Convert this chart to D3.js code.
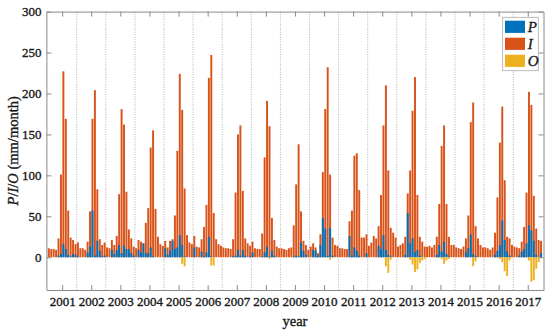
<!DOCTYPE html>
<html>
<head>
<meta charset="utf-8">
<script src="https://cdn.jsdelivr.net/npm/d3@7"></script>
<style>
  body { margin: 0; background: #fff; }
  svg text { font-family: "Liberation Serif", "Times New Roman", serif; fill: #1a1a1a; stroke: #1a1a1a; stroke-width: 0.35px; }
</style>
</head>
<body>
<div id="viz"></div>
<script>
var width = 550, height = 333;
var margin = {top: 11.6, right: 6.5, bottom: 43, left: 46.4};

// one row per year, Jan..Dec (mm/month)
var years = d3.range(2001, 2018);

var P = [
  [0,0,0,0,2,4,16,10,3,1,4,3],
  [1,0,0,0,6,13,57,2,20,8,1,2],
  [0,0,9,4,9,15,5,14,10,10,5,2],
  [0,9,6,17,5,5,12,1,0,0,0,0],
  [11,3,8,20,10,12,27,15,1,0,0,0],
  [12,0,0,7,1,6,25,1,0,0,0,0],
  [0,0,0,0,1,2,9,2,9,2,0,1],
  [6,0,0,0,1,6,13,1,8,2,0,0],
  [0,0,0,0,0,1,2,1,18,8,3,0],
  [0,9,8,2,15,48,35,2,36,2,0,0],
  [0,0,0,0,26,2,12,8,2,0,0,5],
  [0,0,0,0,14,10,27,9,3,1,0,0],
  [0,0,0,3,54,17,23,6,9,2,0,0],
  [0,0,0,0,3,15,7,19,4,1,0,0],
  [0,0,0,0,6,11,28,4,2,0,0,0],
  [0,0,0,0,3,8,15,45,21,7,2,0],
  [0,0,2,7,10,17,39,33,20,3,0,5]
];

var I = [
  [11,10,10,9,23,101,227,169,57,24,21,16],
  [18,11,11,9,19,56,169,204,83,22,15,18],
  [12,11,21,15,26,77,181,162,80,34,23,13],
  [11,21,19,17,42,60,134,155,59,25,16,14],
  [20,12,20,22,51,130,224,180,84,27,18,16],
  [26,13,12,22,37,64,219,247,54,22,16,14],
  [12,11,11,10,22,79,150,161,81,23,17,14],
  [19,11,10,10,29,122,191,160,48,21,13,11],
  [11,10,9,11,12,39,89,138,56,20,15,9],
  [13,17,12,5,28,104,181,232,101,24,15,14],
  [11,11,10,10,44,57,124,127,82,24,24,28],
  [14,18,26,23,38,76,161,210,106,36,30,24],
  [13,15,17,25,78,106,179,220,76,25,19,13],
  [13,14,12,15,25,65,136,161,65,25,15,15],
  [12,11,10,13,23,51,165,189,38,23,15,12],
  [12,11,9,12,30,73,140,184,94,25,23,15],
  [13,12,11,19,37,79,202,186,75,35,21,20]
];

var O = [
  [0,0,0,0,0,0,0,0,0,0,0,0],
  [0,0,0,0,0,0,0,0,0,0,0,0],
  [0,0,0,0,0,0,0,0,0,0,0,0],
  [0,0,0,0,0,0,0,0,0,0,0,0],
  [0,0,0,0,0,0,0,-8,-11,0,0,0],
  [0,0,0,0,0,0,0,-10,-10,0,0,0],
  [0,0,0,0,0,0,0,0,0,0,0,0],
  [0,0,0,0,0,0,0,-2,0,0,0,0],
  [0,0,0,0,0,0,0,0,0,0,0,0],
  [0,0,0,0,0,0,0,0,-3,0,0,0],
  [0,0,0,0,0,0,0,0,0,0,0,0],
  [0,0,0,0,0,0,0,-11,-19,-3,0,0],
  [0,0,0,0,0,-3,-9,-18,-15,-7,-4,-2],
  [0,0,0,0,0,0,-2,-8,-4,-2,0,0],
  [0,0,0,0,0,0,0,-11,-5,0,0,0],
  [0,0,0,0,0,0,-2,-6,-17,-23,-4,0],
  [0,0,0,0,0,0,-4,-30,-28,-14,-6,0]
];

var yTicks = [0, 50, 100, 150, 200, 250, 300];
var colors = {P: "#0072BD", I: "#D95319", O: "#EDB120"};

// flatten to monthly records, month index 1..204
function flat(rows) {
  var out = [];
  rows.forEach(function(r, yi) {
    r.forEach(function(v, mi) { out.push({m: yi * 12 + mi + 1, v: v}); });
  });
  return out;
}
var dataP = flat(P), dataI = flat(I), dataO = flat(O);

var x = d3.scaleLinear()
  .domain([0, years.length * 12 + 1])
  .range([margin.left, width - margin.right]);

var y = d3.scaleLinear()
  .domain([-40, 300])
  .range([height - margin.bottom, margin.top]);

var bw = 0.8 * (x(1) - x(0));

var svg = d3.select("#viz").append("svg")
  .attr("width", width)
  .attr("height", height);

// dotted year separators
svg.append("g")
  .selectAll("line")
  .data(years.slice(1))
  .join("line")
  .attr("x1", function(d, i) { return x((i + 1) * 12 + 0.5); })
  .attr("x2", function(d, i) { return x((i + 1) * 12 + 0.5); })
  .attr("y1", y(300))
  .attr("y2", y(-40))
  .attr("stroke", "#9a9a9a")
  .attr("stroke-width", 0.8)
  .attr("stroke-dasharray", "1,1.5");

function bars(data, color) {
  svg.append("g")
    .selectAll("rect")
    .data(data.filter(function(d) { return d.v !== 0; }))
    .join("rect")
    .attr("x", function(d) { return x(d.m) - bw / 2; })
    .attr("width", bw)
    .attr("y", function(d) { return y(Math.max(0, d.v)); })
    .attr("height", function(d) { return Math.abs(y(d.v) - y(0)); })
    .attr("fill", color);
}
bars(dataI, colors.I);
bars(dataP, colors.P);
bars(dataO, colors.O);

// axes, ticks pointing inwards
var yearCenters = years.map(function(d, i) { return i * 12 + 6.5; });

var gx = svg.append("g")
  .attr("transform", "translate(0," + y(-40) + ")")
  .call(d3.axisBottom(x).tickValues(yearCenters)
    .tickFormat(function(d, i) { return years[i]; })
    .tickSizeInner(-5).tickSizeOuter(0).tickPadding(7));

var gxTop = svg.append("g")
  .attr("transform", "translate(0," + y(300) + ")")
  .call(d3.axisTop(x).tickValues(yearCenters).tickFormat("")
    .tickSizeInner(-5).tickSizeOuter(0));

var gy = svg.append("g")
  .attr("transform", "translate(" + x(0) + ",0)")
  .call(d3.axisLeft(y).tickValues(yTicks)
    .tickSizeInner(-5).tickSizeOuter(0).tickPadding(5));

var gyRight = svg.append("g")
  .attr("transform", "translate(" + x(years.length * 12 + 1) + ",0)")
  .call(d3.axisRight(y).tickValues(yTicks).tickFormat("")
    .tickSizeInner(-5).tickSizeOuter(0));

[gx, gxTop, gy, gyRight].forEach(function(g) {
  g.select(".domain").attr("stroke", "#8a8a8a");
  g.selectAll(".tick line").attr("stroke", "#8a8a8a");
  g.selectAll("text").attr("font-size", 13).attr("font-family", null).attr("fill", null);
});

// axis titles
var yl = svg.append("text")
  .attr("transform", "translate(18," + ((y(300) + y(-40)) / 2) + ") rotate(-90)")
  .attr("text-anchor", "middle")
  .attr("font-size", 14.5);
yl.append("tspan").attr("font-style", "italic").text("P");
yl.append("tspan").text("/");
yl.append("tspan").attr("font-style", "italic").text("I");
yl.append("tspan").text("/");
yl.append("tspan").attr("font-style", "italic").text("O");
yl.append("tspan").text(" (mm/month)");

svg.append("text")
  .attr("x", (x(0) + x(years.length * 12 + 1)) / 2)
  .attr("y", 326)
  .attr("text-anchor", "middle")
  .attr("font-size", 14.5)
  .text("year");

// legend
var legend = svg.append("g").attr("transform", "translate(502.7,17.3)");
legend.append("rect")
  .attr("width", 35.6).attr("height", 53.4)
  .attr("fill", "#fff").attr("stroke", "#a8a8a8").attr("stroke-width", 0.8);

var keys = ["P", "I", "O"];
keys.forEach(function(k, i) {
  legend.append("rect")
    .attr("x", 2.3).attr("y", 3.4 + i * 17)
    .attr("width", 20).attr("height", 12.2)
    .attr("fill", colors[k]);
  legend.append("text")
    .attr("x", 25).attr("y", 14.5 + i * 17)
    .attr("font-size", 15)
    .attr("font-style", "italic")
    .text(k);
});
</script>
</body>
</html>
